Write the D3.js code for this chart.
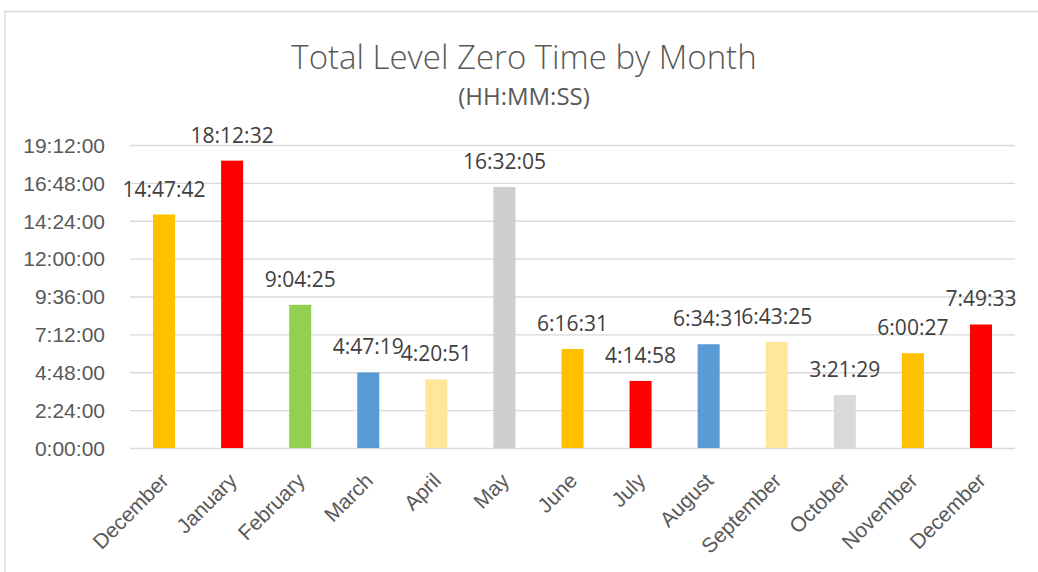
<!DOCTYPE html>
<html>
<head>
<meta charset="utf-8">
<script src="https://cdn.jsdelivr.net/npm/d3@7"></script>
<style>
  body { margin: 0; background: #fff; }
  svg { display: block; font-family: "Open Sans", sans-serif; }
</style>
</head>
<body>
<div id="chart"></div>
<script>
// Data
const months = ['December', 'January', 'February', 'March', 'April', 'May', 'June',
  'July', 'August', 'September', 'October', 'November', 'December'];
const durations = ['14:47:42', '18:12:32', '9:04:25', '4:47:19', '4:20:51', '16:32:05', '6:16:31',
  '4:14:58', '6:34:31', '6:43:25', '3:21:29', '6:00:27', '7:49:33'];
const barColors = ['#FFC000', '#FF0000', '#92D050', '#5B9BD5', '#FFE699', '#D0CECE', '#FFC000',
  '#FF0000', '#5B9BD5', '#FFE699', '#D9D9D9', '#FFC000', '#FF0000'];
const yTicksHours = [0, 2.4, 4.8, 7.2, 9.6, 12, 14.4, 16.8, 19.2];

const toHours = s => {
  const [h, m, sec] = s.split(':').map(Number);
  return h + m / 60 + sec / 3600;
};
const fmtHMS = h => {
  const total = Math.round(h * 3600);
  const hh = Math.floor(total / 3600);
  const mm = Math.floor((total % 3600) / 60);
  const ss = total % 60;
  return `${hh}:${String(mm).padStart(2, '0')}:${String(ss).padStart(2, '0')}`;
};

const data = months.map((m, i) => ({ key: i, month: m, label: durations[i], value: toHours(durations[i]), color: barColors[i] }));

const width = 1038, height = 572;
const margin = { left: 130, right: 23, top: 145, bottom: 124 };
const fontSize = '21px';

const svg = d3.select('#chart').append('svg')
  .attr('width', width)
  .attr('height', height);

// Chart frame
svg.append('rect')
  .attr('x', 5).attr('y', 11.5)
  .attr('width', width + 10).attr('height', height + 10)
  .attr('fill', '#fff')
  .attr('stroke', '#d9d9d9')
  .attr('stroke-width', 1.5);

const x = d3.scaleBand()
  .domain(data.map(d => d.key))
  .range([margin.left, width - margin.right])
  .paddingInner(0.676)
  .paddingOuter(0.338);

const y = d3.scaleLinear()
  .domain([0, 19.2])
  .range([height - margin.bottom, margin.top]);

// Gridlines
svg.append('g')
  .attr('transform', `translate(${margin.left},0)`)
  .call(d3.axisLeft(y).tickValues(yTicksHours).tickSize(-(width - margin.right - margin.left)).tickFormat(''))
  .call(g => g.select('.domain').remove())
  .call(g => g.selectAll('line').attr('stroke', '#d9d9d9').attr('stroke-width', 1.3));

// Y axis labels
svg.append('g')
  .attr('transform', `translate(${margin.left - 22},0)`)
  .call(d3.axisLeft(y).tickValues(yTicksHours).tickSize(0).tickFormat(fmtHMS))
  .call(g => g.select('.domain').remove())
  .call(g => g.selectAll('text')
    .attr('fill', '#595959')
    .style('font-size', fontSize)
    .attr('dy', '0.35em'));

// Bars
svg.append('g')
  .selectAll('rect')
  .data(data)
  .enter().append('rect')
  .attr('x', d => x(d.key))
  .attr('y', d => y(d.value))
  .attr('width', x.bandwidth())
  .attr('height', d => y(0) - y(d.value))
  .attr('fill', d => d.color);

// Data labels
svg.append('g')
  .selectAll('text')
  .data(data)
  .enter().append('text')
  .attr('x', d => x(d.key) + x.bandwidth() / 2)
  .attr('y', d => y(d.value) - 18)
  .attr('text-anchor', 'middle')
  .attr('fill', '#404040')
  .style('font-size', fontSize)
  .text(d => d.label);

// X axis
svg.append('g')
  .attr('transform', `translate(0,${y(0)})`)
  .call(d3.axisBottom(x).tickSize(0).tickFormat(k => months[k]))
  .call(g => g.select('.domain').remove())
  .call(g => g.selectAll('text')
    .attr('fill', '#595959')
    .style('font-size', fontSize)
    .attr('text-anchor', 'end')
    .attr('dy', null)
    .attr('y', 0)
    .attr('transform', 'translate(6,34) rotate(-45)'));

// Title
svg.append('text')
  .attr('x', 524).attr('y', 69)
  .attr('text-anchor', 'middle')
  .attr('fill', '#595959')
  .style('font-size', '33px')
  .style('font-weight', 300)
  .text('Total Level Zero Time by Month');

svg.append('text')
  .attr('x', 524).attr('y', 105)
  .attr('text-anchor', 'middle')
  .attr('fill', '#595959')
  .style('font-size', '24px')
  .text('(HH:MM:SS)');
</script>
</body>
</html>
